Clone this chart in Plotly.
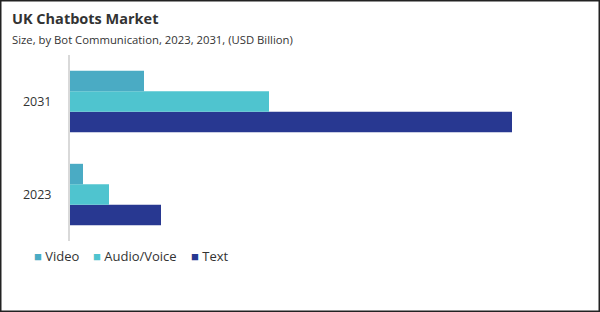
import plotly.graph_objects as go

categories = ["2023", "2031"]
series_names = ["Video", "Audio/Voice", "Text"]
video = [0.13, 0.74]
audio_voice = [0.39, 1.99]
text = [0.91, 4.42]
colors = {"Video": "#4aabc4", "Audio/Voice": "#4fc4cf", "Text": "#283891"}

W, H = 600, 312
ml, mr, mt, mb = 70, 10, 55, 71
pw, ph = W - ml - mr, H - mt - mb

def px_x(x):
    return (x - ml) / pw

def px_y(y):
    return (H - mb - y) / ph

fig = go.Figure()
for name, vals in [("Text", text), ("Audio/Voice", audio_voice), ("Video", video)]:
    fig.add_trace(go.Bar(
        y=categories, x=vals, name=name, orientation="h",
        marker=dict(color=colors[name], line=dict(width=0)),
        showlegend=False,
    ))

font_fam = "Open Sans, sans-serif"
annotations = [
    dict(text="<b>UK Chatbots Market</b>", xref="paper", yref="paper",
         x=px_x(10), y=px_y(30), xanchor="left", yanchor="bottom",
         showarrow=False, font=dict(family=font_fam, size=14.5, color="#333333")),
    dict(text="Size, by Bot Communication, 2023, 2031, (USD Billion)", xref="paper", yref="paper",
         x=px_x(10), y=px_y(49), xanchor="left", yanchor="bottom",
         showarrow=False, font=dict(family=font_fam, size=11.3, color="#333333")),
]
legend_pos = {"Video": 32, "Audio/Voice": 91, "Text": 189}
for name in series_names:
    annotations.append(dict(
        text=f"<span style='color:{colors[name]}'>■</span> {name}",
        xref="paper", yref="paper", x=px_x(legend_pos[name]), y=px_y(256),
        xanchor="left", yanchor="middle", showarrow=False,
        font=dict(family=font_fam, size=13, color="#333333"),
    ))

fig.update_layout(
    width=W, height=H,
    margin=dict(l=ml, r=mr, t=mt, b=mb, pad=0),
    paper_bgcolor="white", plot_bgcolor="white",
    barmode="group", bargap=0.34, bargroupgap=0,
    showlegend=False,
    xaxis=dict(range=[0, 4.42 * pw / 442], visible=False, showgrid=False, zeroline=False),
    yaxis=dict(
        type="category", categoryorder="array", categoryarray=categories,
        showline=True, linecolor="#d9d9d9", linewidth=2,
        showgrid=False, zeroline=False, ticks="", ticklen=0,
        tickfont=dict(family=font_fam, size=12.5, color="#333333"),
        ticklabelstandoff=14,
    ),
    annotations=annotations,
    shapes=[
        dict(type="rect", xref="paper", yref="paper",
             x0=px_x(0.75), x1=px_x(W - 0.75),
             y0=px_y(H - 0.75), y1=px_y(0.75),
             line=dict(color="#222222", width=1.5), fillcolor="rgba(0,0,0,0)", layer="above"),
    ],
)

fig.write_html("out.html")
